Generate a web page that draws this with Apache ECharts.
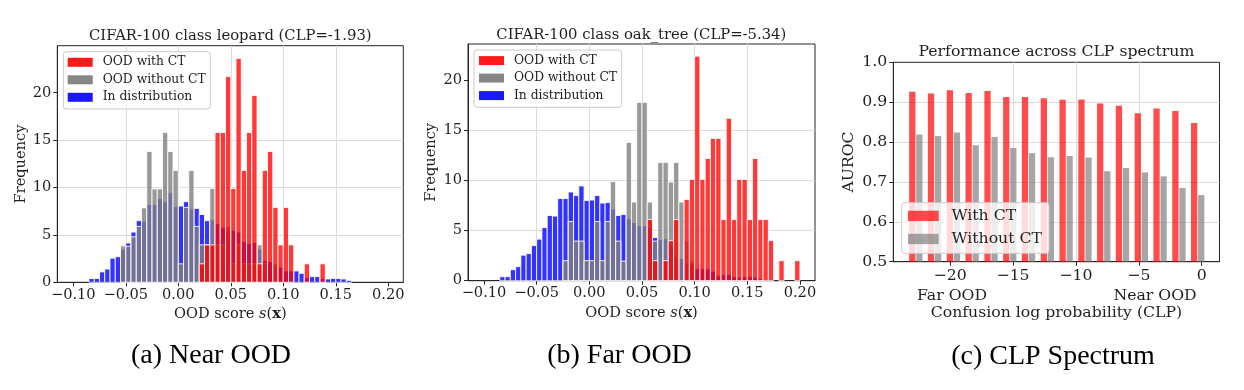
<!DOCTYPE html>
<html><head><meta charset="utf-8">
<script src="https://cdn.jsdelivr.net/npm/echarts@6/dist/echarts.min.js"></script>
<style>html,body{margin:0;padding:0;background:#fff}#chart{width:1244px;height:390px}</style>
</head><body><div id="chart"></div>
<script>
// ---------- data ----------
// histogram bins (matplotlib-style: range and count)
const BIN_RANGE = [-0.10, 0.20];
const BIN_COUNT = 60;
// in-distribution scores (shared by panels a and b)
const inDistribution = [0,0,0,0.4,0.4,1.1,1.4,2.55,2.7,3.5,4.15,5.3,6.5,6.45,8.2,8.2,8.85,8.5,9.45,8.0,8.05,8.5,7.75,7.8,7.15,6.5,6.6,6.2,5.8,5.5,5.5,5.3,4.3,4.1,4.2,3.5,2.3,2.2,1.7,1.6,1.2,1.2,1.2,0.95,0.5,0.6,0.6,0.4,0.35,0.4,0.4,0.35,0.2,0,0,0,0,0,0,0];
// panel (a) leopard
const leopardWithoutCT = [0,0,0,0,0,0,0,0,0,3.85,3.8,4.8,5.9,7.85,13.8,9.85,9.85,15.8,13.8,11.8,1.95,7.9,11.8,5.9,3.95,3.95,9.9,3.95,3.95,5.9,1.95,3.95,1.95,1.95,1.95,3.95,1.95,0,1.95,0,0,0,0,0,0,0,0,0,0,0,0,0,0,0,0,0,0,0,0,0];
const leopardWithCT = [0,0,0,0,0,0,0,0,0,0,0,0,0,0,0,0,0,0,0,0,0,0,0,0,1.95,3.95,3.95,15.8,15.8,21.7,9.9,23.6,11.8,15.8,19.7,1.95,11.8,13.8,7.9,3.95,7.9,3.95,0,0,1.95,0,0,1.95,0,0,0,0,0,0,0,0,0,0,0,0];
// panel (b) oak_tree
const oakWithoutCT = [0,0,0,0,0,0,0,0,0,0,0,0,0,0,0,2.0,5.9,3.95,3.95,2.0,2.0,5.9,2.0,5.9,9.9,3.95,1.95,13.8,7.85,17.8,17.8,7.85,3.95,11.8,11.8,9.85,11.8,7.85,3.95,1.95,0,0,0,0,0,0,0,0,0,0,0,0,0,0,0,0,0,0,0,0];
const oakWithCT = [0,0,0,0,0,0,0,0,0,0,0,0,0,0,0,0,0,0,0,0,0,0,0,0,0,0,0,0,0,0,0,6.1,2.0,0,2.0,4.0,6.1,0,8.1,10.1,22.4,10.1,12.2,14.2,14.2,6.1,16.2,6.1,10.1,10.1,6.1,12.2,6.1,6.1,4.0,0,2.0,0,0,2.0];
const histXTicks = [-0.10, -0.05, 0.00, 0.05, 0.10, 0.15, 0.20];
const freqTicks = [0, 5, 10, 15, 20];
// panel (c) CLP spectrum
const clpGroups = [-22.73,-21.24,-19.74,-18.25,-16.75,-15.26,-13.77,-12.27,-10.78,-9.28,-7.79,-6.30,-4.80,-3.31,-1.81,-0.32];
const aurocWithCT = [0.926,0.922,0.930,0.923,0.928,0.913,0.913,0.910,0.906,0.907,0.897,0.891,0.872,0.884,0.878,0.848];
const aurocWithoutCT = [0.819,0.815,0.824,0.792,0.813,0.785,0.772,0.762,0.765,0.761,0.727,0.735,0.724,0.714,0.685,0.667];
const clpTicks = [-20, -15, -10, -5, 0];
const aurocTicks = [0.5, 0.6, 0.7, 0.8, 0.9, 1.0];

// ---------- helpers ----------
const SERIF = '"DejaVu Serif"';
const TXT = '#1f1f1f';
const binW = (BIN_RANGE[1] - BIN_RANGE[0]) / BIN_COUNT;
function histData(counts) {
  return counts.map((c, j) => [BIN_RANGE[0] + j * binW, BIN_RANGE[0] + (j + 1) * binW, c]);
}
function histItem(params, api) {
  const y = api.value(2);
  if (!(y > 0)) return null;
  const tl = api.coord([api.value(0), y]);
  const br = api.coord([api.value(1), 0]);
  return {type: 'rect', shape: {x: tl[0], y: tl[1], width: br[0] - tl[0], height: br[1] - tl[1]},
    style: {fill: api.visual('color'), stroke: 'rgba(255,255,255,0.85)', lineWidth: 1}};
}
const AUROC_RANGE = [0.5, 1.0];
function barItem(offset, w) {
  return function (params, api) {
    const g = api.value(0), v = api.value(1);
    const tl = api.coord([g + offset - w / 2, v]);
    const br = api.coord([g + offset + w / 2, AUROC_RANGE[0]]);
    return {type: 'rect', shape: {x: tl[0], y: tl[1], width: br[0] - tl[0], height: br[1] - tl[1]},
      style: {fill: api.visual('color')}};
  };
}
const minus = v => (v < 0 ? '\u2212' : '') + Math.abs(v);
function valAxis(o) {
  return Object.assign({
    type: 'value',
    axisLine: {show: true, onZero: false, lineStyle: {color: '#262626', width: 1}},
    axisTick: {show: true, length: 4, lineStyle: {color: '#262626'}, customValues: o.ticks},
    axisLabel: {customValues: o.ticks, color: TXT, fontFamily: SERIF, fontSize: o.fs, margin: o.margin, formatter: o.fmt},
    splitLine: {show: true, showMinLine: false, showMaxLine: false, lineStyle: {color: '#dcdcdc', width: 1}},
    nameTextStyle: {color: TXT, fontFamily: SERIF, fontSize: o.fs, rich: o.rich || {}},
    nameLocation: 'middle'
  }, o.extra);
}
const richS = {
  it: {fontStyle: 'italic', fontFamily: SERIF, fontSize: 14.6, color: TXT},
  bd: {fontWeight: 'bold', fontFamily: SERIF, fontSize: 14.6, color: TXT}
};
const fmtHist = v => (v < 0 ? '\u2212' : '') + Math.abs(v).toFixed(2);

const gridStyle = {show: true, borderColor: '#262626', borderWidth: 1, backgroundColor: 'transparent', containLabel: false};

const histLegendBase = {
  orient: 'vertical', icon: 'rect', itemWidth: 25, itemHeight: 9, itemGap: 3.5,
  backgroundColor: 'rgba(255,255,255,0.8)', borderColor: '#cccccc', borderWidth: 1, borderRadius: 3,
  textStyle: {fontFamily: SERIF, fontSize: 12.3, color: TXT, lineHeight: 14, padding: [0, 0, 0, 5]},
  data: [
    {name: 'OOD with CT', itemStyle: {color: 'rgba(255,0,0,0.9)'}},
    {name: 'OOD without CT', itemStyle: {color: 'rgba(128,128,128,0.95)'}},
    {name: 'In distribution', itemStyle: {color: 'rgba(0,0,255,0.9)'}}
  ]
};

const option = {
  animation: false,
  backgroundColor: '#fff',
  textStyle: {fontFamily: SERIF},
  grid: [
    Object.assign({left: 57.3, top: 45.7, width: 346, height: 236.6}, gridStyle),
    Object.assign({left: 468, top: 44, width: 347, height: 236.7}, gridStyle),
    Object.assign({left: 893.3, top: 62.3, width: 326.2, height: 199.4}, gridStyle)
  ],
  xAxis: [
    valAxis({ticks: histXTicks, fs: 14.6, margin: 5, fmt: fmtHist, rich: richS,
      extra: {gridIndex: 0, min: -0.1152, max: 0.2143, name: 'OOD score {it|s}({bd|x})', nameGap: 22}}),
    valAxis({ticks: histXTicks, fs: 14.6, margin: 5, fmt: fmtHist, rich: richS,
      extra: {gridIndex: 1, min: -0.1152, max: 0.2143, name: 'OOD score {it|s}({bd|x})', nameGap: 22}}),
    valAxis({ticks: clpTicks, fs: 15.7, margin: 6, fmt: minus,
      extra: {gridIndex: 2, min: -24.52, max: 1.415, name: 'Confusion log probability (CLP)', nameGap: 43}})
  ],
  yAxis: [
    valAxis({ticks: freqTicks, fs: 14.6, margin: 6, fmt: v => String(v),
      extra: {gridIndex: 0, min: 0, max: 24.96, name: 'Frequency', nameGap: 29}}),
    valAxis({ticks: freqTicks, fs: 14.6, margin: 6, fmt: v => String(v),
      extra: {gridIndex: 1, min: 0, max: 23.62, name: 'Frequency', nameGap: 29}}),
    valAxis({ticks: aurocTicks, fs: 15.7, margin: 6, fmt: v => v.toFixed(1),
      extra: {gridIndex: 2, min: AUROC_RANGE[0], max: AUROC_RANGE[1], name: 'AUROC', nameGap: 36}})
  ],
  legend: [
    Object.assign({left: 63.3, top: 51.7, padding: [3.6, 4.6, 4.7, 4.4]}, histLegendBase),
    Object.assign({left: 474, top: 50, padding: [3.6, 4.6, 4.7, 5]}, histLegendBase),
    {
      left: 901.7, top: 202.7, padding: [4.2, 7.1, 5.3, 6.3],
      orient: 'vertical', icon: 'rect', itemWidth: 30.7, itemHeight: 10.3, itemGap: 5.1,
      backgroundColor: 'rgba(255,255,255,0.8)', borderColor: '#cccccc', borderWidth: 1, borderRadius: 3,
      textStyle: {fontFamily: SERIF, fontSize: 15.7, color: TXT, lineHeight: 18, padding: [0, 0, 0, 7.7]},
      data: [
        {name: 'With CT', itemStyle: {color: 'rgba(255,0,0,0.7)'}},
        {name: 'Without CT', itemStyle: {color: 'rgba(128,128,128,0.7)'}}
      ]
    }
  ],
  series: [
    {type: 'custom', name: 'In distribution', xAxisIndex: 0, yAxisIndex: 0, itemStyle: {color: 'rgba(0,0,255,0.8)'},
      renderItem: histItem, encode: {x: [0, 1], y: 2}, data: histData(inDistribution)},
    {type: 'custom', name: 'OOD without CT', xAxisIndex: 0, yAxisIndex: 0, itemStyle: {color: 'rgba(128,128,128,0.8)'},
      renderItem: histItem, encode: {x: [0, 1], y: 2}, data: histData(leopardWithoutCT)},
    {type: 'custom', name: 'OOD with CT', xAxisIndex: 0, yAxisIndex: 0, itemStyle: {color: 'rgba(255,0,0,0.78)'},
      renderItem: histItem, encode: {x: [0, 1], y: 2}, data: histData(leopardWithCT)},
    {type: 'custom', name: 'In distribution', xAxisIndex: 1, yAxisIndex: 1, itemStyle: {color: 'rgba(0,0,255,0.8)'},
      renderItem: histItem, encode: {x: [0, 1], y: 2}, data: histData(inDistribution)},
    {type: 'custom', name: 'OOD without CT', xAxisIndex: 1, yAxisIndex: 1, itemStyle: {color: 'rgba(128,128,128,0.8)'},
      renderItem: histItem, encode: {x: [0, 1], y: 2}, data: histData(oakWithoutCT)},
    {type: 'custom', name: 'OOD with CT', xAxisIndex: 1, yAxisIndex: 1, itemStyle: {color: 'rgba(255,0,0,0.78)'},
      renderItem: histItem, encode: {x: [0, 1], y: 2}, data: histData(oakWithCT)},
    {type: 'custom', name: 'With CT', xAxisIndex: 2, yAxisIndex: 2, itemStyle: {color: 'rgba(255,0,0,0.7)'},
      renderItem: barItem(-0.28, 0.5), encode: {x: 0, y: 1}, data: clpGroups.map((g, i) => [g, aurocWithCT[i]])},
    {type: 'custom', name: 'Without CT', xAxisIndex: 2, yAxisIndex: 2, itemStyle: {color: 'rgba(128,128,128,0.7)'},
      renderItem: barItem(0.28, 0.5), encode: {x: 0, y: 1}, data: clpGroups.map((g, i) => [g, aurocWithoutCT[i]])}
  ],
  graphic: [
    {type: 'text', x: 230.3, y: 35.7, style: {text: 'CIFAR-100 class leopard (CLP=-1.93)', font: '14.8px ' + SERIF, fill: TXT, align: 'center', verticalAlign: 'middle', textAlign: 'center', textVerticalAlign: 'middle'}},
    {type: 'text', x: 641.3, y: 35, style: {text: 'CIFAR-100 class oak_tree (CLP=-5.34)', font: '14.8px ' + SERIF, fill: TXT, align: 'center', verticalAlign: 'middle', textAlign: 'center', textVerticalAlign: 'middle'}},
    {type: 'text', x: 1056.4, y: 51.7, style: {text: 'Performance across CLP spectrum', font: '15.7px ' + SERIF, fill: TXT, align: 'center', verticalAlign: 'middle', textAlign: 'center', textVerticalAlign: 'middle'}},
    {type: 'text', x: 952, y: 295.5, style: {text: 'Far OOD', font: '15.7px ' + SERIF, fill: TXT, align: 'center', verticalAlign: 'middle', textAlign: 'center', textVerticalAlign: 'middle'}},
    {type: 'text', x: 1155, y: 295.5, style: {text: 'Near OOD', font: '15.7px ' + SERIF, fill: TXT, align: 'center', verticalAlign: 'middle', textAlign: 'center', textVerticalAlign: 'middle'}},
    {type: 'text', x: 211, y: 356, style: {text: '(a) Near OOD', font: '28px "Liberation Serif"', fill: '#000', align: 'center', verticalAlign: 'middle', textAlign: 'center', textVerticalAlign: 'middle'}},
    {type: 'text', x: 619.5, y: 356, style: {text: '(b) Far OOD', font: '28px "Liberation Serif"', fill: '#000', align: 'center', verticalAlign: 'middle', textAlign: 'center', textVerticalAlign: 'middle'}},
    {type: 'text', x: 1053, y: 357, style: {text: '(c) CLP Spectrum', font: '28px "Liberation Serif"', fill: '#000', align: 'center', verticalAlign: 'middle', textAlign: 'center', textVerticalAlign: 'middle'}}
  ]
};
const chart = echarts.init(document.getElementById('chart'), null, {renderer: 'canvas'});
chart.setOption(option);
</script></body></html>
